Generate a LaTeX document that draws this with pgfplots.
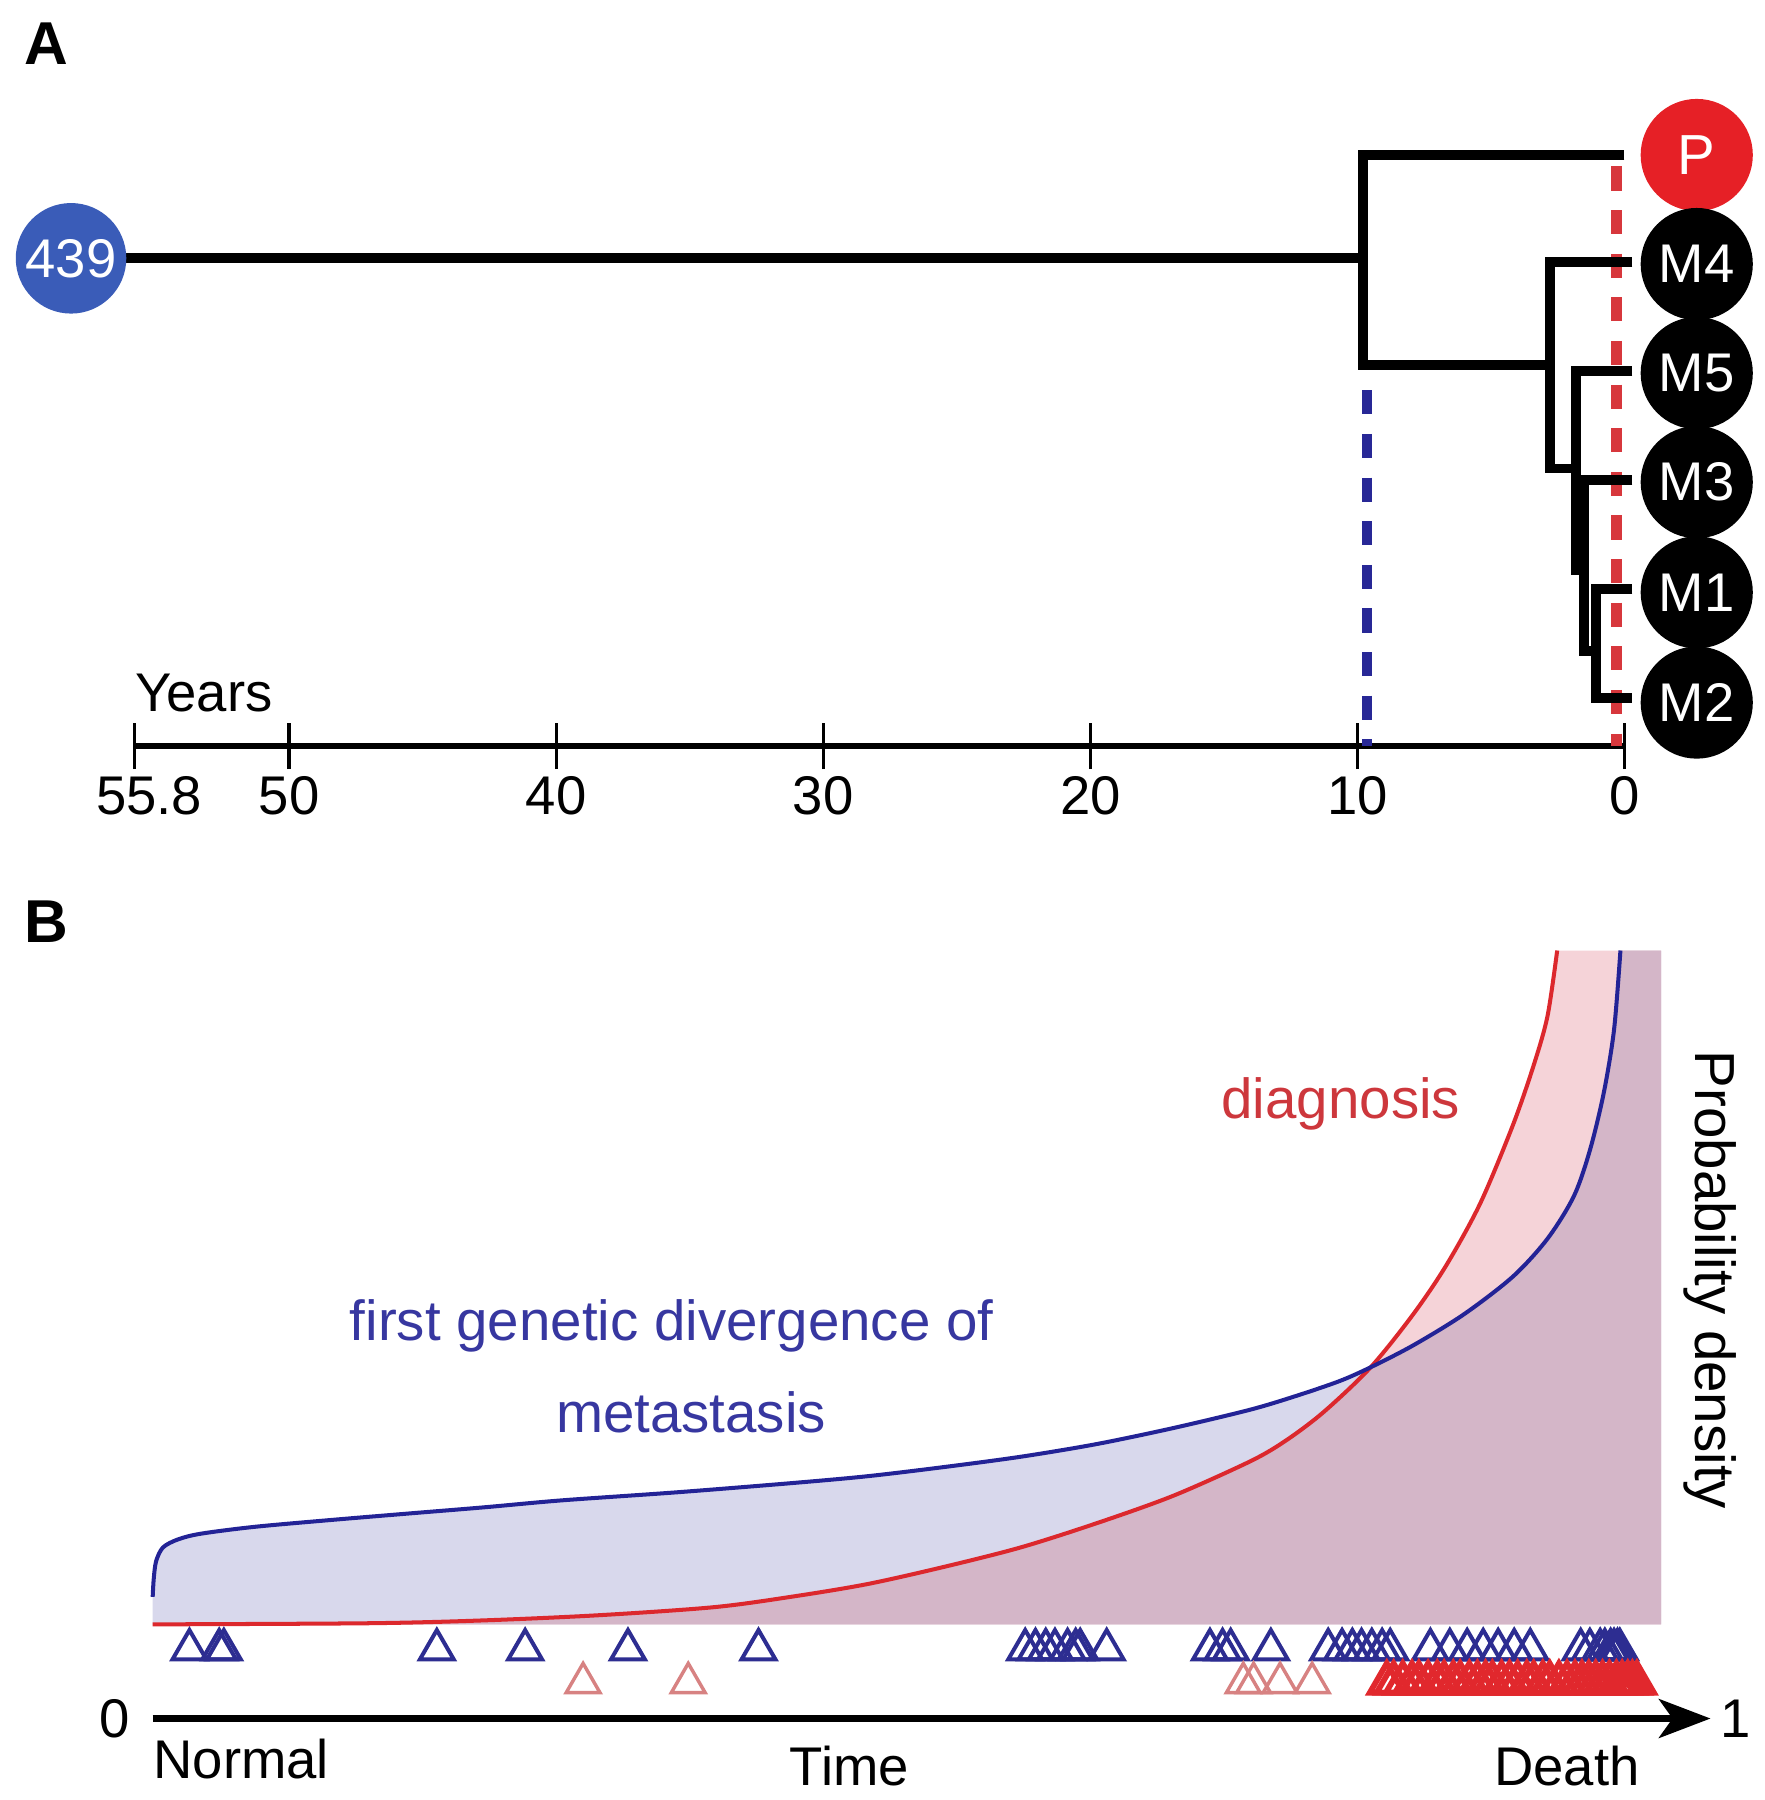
\documentclass[border=0pt]{standalone}
\usepackage{pgfplots}
\pgfplotsset{compat=1.18}
\usepackage{fontspec}
\setmainfont{Liberation Sans}
\usetikzlibrary{arrows.meta}

\definecolor{treeblue}{RGB}{58,92,184}
\definecolor{treered}{RGB}{230,32,38}
\definecolor{dashblue}{RGB}{40,40,150}
\definecolor{dashred}{RGB}{215,55,60}
\definecolor{curveblue}{RGB}{35,35,150}
\definecolor{curvered}{RGB}{220,40,45}
\definecolor{lav}{RGB}{216,216,236}
\definecolor{pinkf}{RGB}{245,211,216}
\definecolor{mauve}{RGB}{212,182,200}
\definecolor{triblue}{RGB}{45,45,145}
\definecolor{trilight}{RGB}{215,130,130}
\definecolor{trired}{RGB}{225,40,45}
\definecolor{txtred}{RGB}{205,55,60}
\definecolor{txtblue}{RGB}{55,55,160}

\newcommand{\lab}{\fontsize{13.5}{16}\selectfont}
\newcommand{\labB}{\fontsize{14}{17}\selectfont}

\begin{document}
\begin{tikzpicture}
% ---------------- Panel A ----------------
\begin{axis}[
  set layers,
  at={(0mm,-75mm)}, anchor=south west,
  scale only axis, width=153.7mm, height=75mm,
  clip=false,
  x dir=reverse,
  xmin=-5.245, xmax=60.83, ymin=-100, ymax=650,
  axis x line=middle, axis y line=none,
  x axis line style={draw=none},
  xtick={55.8,50,40,30,20,10,0},
  xticklabels={\hspace*{2.6mm}55.8,50,40,30,20,10,0},
  tick align=center, major tick length=4mm,
  tick style={black, line width=0.3mm},
  xticklabel style={font=\lab, anchor=north, yshift=0.6mm},
]
\addplot[black, line width=0.55mm] coordinates {(55.8,0) (0,0)};
\addplot[dashblue, line width=0.9mm, dash pattern=on 2.1mm off 1.7mm] coordinates {(9.65,310) (9.65,0)};
\addplot[dashred, line width=0.9mm, dash pattern=on 2.1mm off 1.7mm] coordinates {(0.3,505) (0.3,0)};
% tree
\addplot[black, line width=0.85mm] coordinates {(58.17,425) (9.8,425)};
\addplot[black, line width=0.85mm, line join=miter] coordinates {(0,515) (9.8,515) (9.8,332) (2.79,332)};
\addplot[black, line width=0.85mm, line join=miter] coordinates {(-0.3,422) (2.79,422) (2.79,242) (1.8,242)};
\addplot[black, line width=0.85mm, line join=miter] coordinates {(-0.3,327) (1.8,327) (1.8,153) (1.5,153)};
\addplot[black, line width=0.85mm, line join=miter] coordinates {(-0.3,232) (1.5,232) (1.5,83) (1.07,83)};
\addplot[black, line width=0.85mm, line join=miter] coordinates {(-0.3,137) (1.07,137) (1.07,42) (-0.3,42)};
% nodes (samples)
\addplot[treeblue, only marks, mark=*, mark size=13.5pt, mark options={fill=treeblue, draw=treeblue}] coordinates {(58.17,425)};
\addplot[treered, only marks, mark=*, mark size=13.7pt, mark options={fill=treered, draw=treered}] coordinates {(-2.71,515)};
\addplot[black, only marks, mark=*, mark size=13.7pt, mark options={fill=black, draw=black}] coordinates {(-2.71,420) (-2.71,325) (-2.71,230) (-2.71,134) (-2.71,38)};
\begin{pgfonlayer}{axis foreground}
\node[text=white, font=\lab] at (axis cs:58.17,425) {439};
\node[text=white, font=\labB] at (axis cs:-2.71,515) {P};
\node[text=white, font=\lab] at (axis cs:-2.71,420) {M4};
\node[text=white, font=\lab] at (axis cs:-2.71,325) {M5};
\node[text=white, font=\lab] at (axis cs:-2.71,230) {M3};
\node[text=white, font=\lab] at (axis cs:-2.71,134) {M1};
\node[text=white, font=\lab] at (axis cs:-2.71,38) {M2};
\end{pgfonlayer}
\node[font=\lab, anchor=base west, inner sep=0pt] at (axis cs:55.8,30) {Years};
\node[font=\fontsize{15}{18}\selectfont\bfseries] at (axis cs:59.11,612) {A};
\end{axis}

% ---------------- Panel B ----------------
\begin{axis}[
  at={(0mm,-156.8mm)}, anchor=south west,
  scale only axis, width=153.7mm, height=80.8mm,
  clip=false, axis lines=none,
  xmin=-0.09801, xmax=1.03464, ymin=-0.71, ymax=7.37,
]
% lavender area under the divergence curve
\addplot[fill=lav, draw=none] coordinates {
 (0,0.82) (0,1.06) (0.0007,1.22) (0.0022,1.37) (0.0066,1.49) (0.0162,1.56) (0.0310,1.61)
 (0.0656,1.67) (0.1150,1.73) (0.1636,1.785) (0.2130,1.84) (0.2623,1.90) (0.3360,1.97)
 (0.4097,2.05) (0.4584,2.11) (0.5077,2.19) (0.5571,2.28) (0.6057,2.39) (0.6551,2.53)
 (0.7045,2.69) (0.7340,2.81) (0.7620,2.94) (0.7819,3.06) (0.8091,3.25) (0.8416,3.52)
 (0.8732,3.85) (0.8954,4.18) (0.9123,4.55) (0.9226,4.95) (0.9315,5.45) (0.9381,6.00)
 (0.9422,6.69) (0.9683,6.69) (0.9683,0.82)} -- cycle;
% pink area under the diagnosis curve
\addplot[fill=pinkf, draw=none] coordinates {
 (0,0.82) (0.1393,0.83) (0.2130,0.855) (0.2867,0.90) (0.3604,0.97) (0.4097,1.06)
 (0.4584,1.17) (0.5077,1.32) (0.5571,1.49) (0.6057,1.70) (0.6551,1.94) (0.7045,2.24)
 (0.7273,2.42) (0.7517,2.67) (0.7819,3.06) (0.8091,3.52) (0.8305,3.95) (0.8523,4.49)
 (0.8732,5.17) (0.8865,5.69) (0.8954,6.12) (0.9016,6.69) (0.9683,6.69) (0.9683,0.82)} -- cycle;
% overlap of both areas
\addplot[fill=mauve, draw=none] coordinates {
 (0,0.82) (0.1393,0.83) (0.2130,0.855) (0.2867,0.90) (0.3604,0.97) (0.4097,1.06)
 (0.4584,1.17) (0.5077,1.32) (0.5571,1.49) (0.6057,1.70) (0.6551,1.94) (0.7045,2.24)
 (0.7273,2.42) (0.7517,2.67) (0.7819,3.06) (0.8091,3.25) (0.8416,3.52)
 (0.8732,3.85) (0.8954,4.18) (0.9123,4.55) (0.9226,4.95) (0.9315,5.45) (0.9381,6.00)
 (0.9422,6.69) (0.9683,6.69) (0.9683,0.82)} -- cycle;
% curves
\addplot[curvered, line width=0.35mm, smooth, tension=0.5] coordinates {
 (0,0.82) (0.1393,0.83) (0.2130,0.855) (0.2867,0.90) (0.3604,0.97) (0.4097,1.06)
 (0.4584,1.17) (0.5077,1.32) (0.5571,1.49) (0.6057,1.70) (0.6551,1.94) (0.7045,2.24)
 (0.7273,2.42) (0.7517,2.67) (0.7819,3.06) (0.8091,3.52) (0.8305,3.95) (0.8523,4.49)
 (0.8732,5.17) (0.8865,5.69) (0.8954,6.12) (0.9016,6.69)};
\addplot[curveblue, line width=0.35mm, smooth, tension=0.5] coordinates {
 (0,1.06) (0.0007,1.22) (0.0022,1.37) (0.0066,1.49) (0.0162,1.56) (0.0310,1.61)
 (0.0656,1.67) (0.1150,1.73) (0.1636,1.785) (0.2130,1.84) (0.2623,1.90) (0.3360,1.97)
 (0.4097,2.05) (0.4584,2.11) (0.5077,2.19) (0.5571,2.28) (0.6057,2.39) (0.6551,2.53)
 (0.7045,2.69) (0.7340,2.81) (0.7620,2.94) (0.7819,3.06) (0.8091,3.25) (0.8416,3.52)
 (0.8732,3.85) (0.8954,4.18) (0.9123,4.55) (0.9226,4.95) (0.9315,5.45) (0.9381,6.00)
 (0.9422,6.69)};
% triangles: first genetic divergence
\addplot[only marks, mark=triangle, mark size=4.85pt, mark options={triblue, line width=0.35mm}] coordinates {
 (0.0236,0.60) (0.0427,0.60) (0.0457,0.60) (0.1824,0.60) (0.2391,0.60) (0.3051,0.60) (0.3889,0.60)
 (0.5601,0.60) (0.5667,0.60) (0.5733,0.60) (0.5792,0.60) (0.5873,0.60) (0.5925,0.60) (0.5954,0.60) (0.6124,0.60)
 (0.6787,0.60) (0.6868,0.60) (0.6920,0.60) (0.7178,0.60)
 (0.7546,0.60) (0.7635,0.60) (0.7701,0.60) (0.7760,0.60) (0.7826,0.60) (0.7892,0.60) (0.7944,0.60)
 (0.8202,0.60) (0.8327,0.60) (0.8438,0.60) (0.8541,0.60) (0.8637,0.60) (0.8740,0.60) (0.8843,0.60)
 (0.9167,0.60) (0.9226,0.60) (0.9292,0.60) (0.9322,0.60) (0.9359,0.60) (0.9381,0.60) (0.9403,0.60) (0.9418,0.60)};
% triangles: diagnosis (light)
\addplot[only marks, mark=triangle, mark size=4.85pt, mark options={trilight, line width=0.3mm}] coordinates {
 (0.2763,0.31) (0.3438,0.31) (0.7001,0.31) (0.7067,0.31) (0.7237,0.31) (0.7443,0.31)};
% triangles: diagnosis (strong)
\addplot[only marks, mark=triangle, mark size=4.85pt, mark options={trired, line width=0.5mm}] coordinates {
 (0.7922,0.31) (0.7966,0.31) (0.8025,0.31) (0.8084,0.31) (0.8128,0.31) (0.8187,0.31) (0.8246,0.31)
 (0.8290,0.31) (0.8349,0.31) (0.8393,0.31) (0.8452,0.31) (0.8504,0.31) (0.8556,0.31) (0.8600,0.31)
 (0.8659,0.31) (0.8710,0.31) (0.8762,0.31) (0.8821,0.31) (0.8865,0.31) (0.8924,0.31) (0.8968,0.31)
 (0.9027,0.31) (0.9079,0.31) (0.9130,0.31) (0.9175,0.31) (0.9219,0.31) (0.9263,0.31) (0.9307,0.31)
 (0.9351,0.31) (0.9396,0.31) (0.9433,0.31) (0.9469,0.31) (0.9499,0.31) (0.9528,0.31)};
% time axis
\addplot[black, line width=0.55mm, -{Stealth[length=4.5mm, width=3.4mm, inset=1.2mm]}] coordinates {(0,0) (1.0,0)};
% labels
\node[font=\lab] at (axis cs:-0.0243,0) {0};
\node[font=\lab] at (axis cs:1.0162,0) {1};
\node[font=\lab, anchor=west, inner sep=0pt] at (axis cs:0,-0.35) {Normal};
\node[font=\lab] at (axis cs:0.4473,-0.41) {Time};
\node[font=\lab] at (axis cs:0.9079,-0.41) {Death};
\node[font=\labB, text=txtred] at (axis cs:0.7627,5.35) {diagnosis};
\node[font=\labB, text=txtblue] at (axis cs:0.3331,3.42) {first genetic divergence of};
\node[font=\labB, text=txtblue] at (axis cs:0.3456,2.67) {metastasis};
\node[font=\labB, rotate=-90] at (axis cs:1.0,3.82) {Probability density};
\node[font=\fontsize{15}{18}\selectfont\bfseries] at (axis cs:-0.0685,6.94) {B};
\end{axis}
\pgfresetboundingbox
\path[use as bounding box] (0,0) rectangle (153.7mm,-156.8mm);
\end{tikzpicture}
\end{document}
